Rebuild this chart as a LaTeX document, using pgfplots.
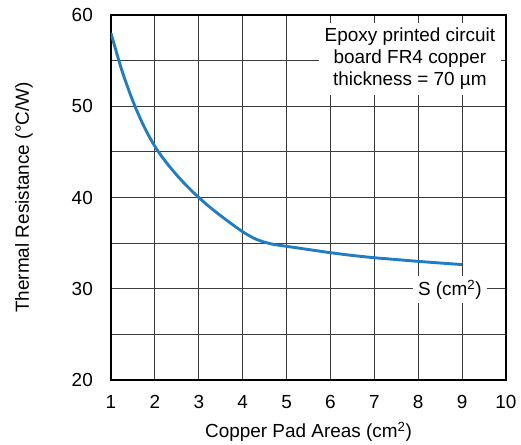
\documentclass[border=0pt]{standalone}
\usepackage{pgfplots}
\pgfplotsset{compat=1.18}
\usepackage{fontspec}
\setmainfont{Liberation Sans}
\definecolor{curveblue}{RGB}{30,125,195}
\definecolor{gridgray}{RGB}{60,60,60}
\begin{document}
\begin{tikzpicture}
\path[use as bounding box] (-111bp,-65bp) rectangle (410bp,380bp);
\begin{axis}[
  scale only axis,
  width=395bp, height=365bp,
  at={(0,0)}, anchor=south west,
  xmin=1, xmax=10, ymin=20, ymax=60,
  xtick={1,2,...,10},
  ytick={20,30,...,60},
  minor ytick={25,35,45,55},
  grid=both,
  major grid style={gridgray, line width=0.8pt},
  minor grid style={gridgray, line width=0.8pt},
  major tick length=0pt, minor tick length=0pt,
  axis line style={black, line width=2pt},
  tick label style={font=\fontsize{19}{22}\selectfont},
  label style={font=\fontsize{19}{22}\selectfont},
  /pgf/number format/assume math mode=true,
  xticklabel style={anchor=center, yshift=-22bp},
  yticklabel style={anchor=east, inner sep=0pt, xshift=-18bp},
  xlabel={Copper Pad Areas (cm\textsuperscript{2})},
  ylabel={Thermal Resistance (°C/W)},
  xlabel style={at={(axis description cs:0.5,-0.142)}, anchor=center},
  ylabel style={at={(axis description cs:-0.22,0.5)}, anchor=center},
]
\addplot[curveblue, line width=2.9pt, smooth, tension=0.5] coordinates {
(1.0,58.0) (1.25,53.9) (1.5,50.55) (1.75,47.8) (2.0,45.6)
(2.25,43.9) (2.5,42.45) (2.75,41.15) (3.0,40.0) (3.25,38.95)
(3.5,38.0) (3.75,37.1) (4.0,36.25) (4.25,35.55) (4.5,35.1)
(4.75,34.82) (5.0,34.65) (5.5,34.3) (6.0,33.95) (6.5,33.65)
(7.0,33.4) (7.5,33.2) (8.0,33.0) (8.5,32.82) (9.0,32.65)
};
\node[fill=white, align=center, inner xsep=6bp, inner ysep=5bp,
      font=\fontsize{19}{22}\selectfont]
  at (axis cs:7.81,55.2) {Epoxy printed circuit\\board FR4 copper\\thickness = 70 µm};
\node[fill=white, inner xsep=5bp, inner ysep=4bp,
      font=\fontsize{19}{22}\selectfont]
  at (axis cs:8.72,29.9) {S (cm\textsuperscript{2})};
\end{axis}
\end{tikzpicture}
\end{document}
